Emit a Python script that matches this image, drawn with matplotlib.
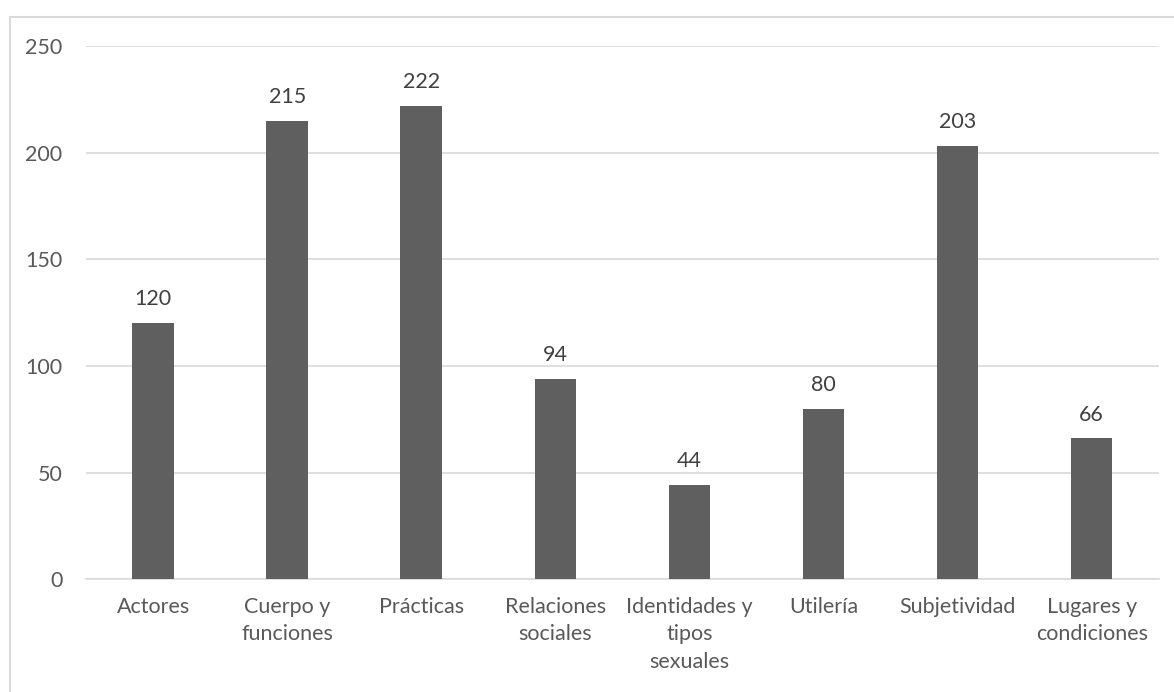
import matplotlib
matplotlib.use("Agg")
import matplotlib.pyplot as plt
import numpy as np

categories = ["Actores", "Cuerpo y\nfunciones", "Prácticas", "Relaciones\nsociales",
              "Identidades y\ntipos\nsexuales", "Utilería", "Subjetividad",
              "Lugares y\ncondiciones"]
values = [120, 215, 222, 94, 44, 80, 203, 66]
yticks = [0, 50, 100, 150, 200, 250]

plt.rcParams['font.family'] = ['Lato', 'DejaVu Sans']

fig = plt.figure(figsize=(11.74, 6.92), dpi=100)
ax = fig.add_axes([0.0733, 0.163, 0.9137, 0.7705])

x = np.arange(len(categories))
bars = ax.bar(x, values, width=0.31, color="#5f5f5f", zorder=3)

# value labels above each bar
for rect, v in zip(bars, values):
    ax.annotate(str(v), (rect.get_x() + rect.get_width() / 2, v),
                xytext=(0, 10), textcoords="offset points",
                ha="center", va="bottom", fontsize=15.5, color="#404040")

ax.set_xlim(-0.5, len(categories) - 0.5)
ax.set_ylim(0, 250)
ax.set_yticks(yticks)
ax.set_yticklabels([str(t) for t in yticks])
ax.set_xticks(x)
ax.set_xticklabels(categories, fontsize=15.5, color="#595959", linespacing=1.45)
ax.tick_params(axis="y", labelsize=15.5, labelcolor="#595959", length=0, pad=17)
ax.tick_params(axis="x", length=0, pad=13)
ax.yaxis.grid(True, color="#d9d9d9", linewidth=1.2, zorder=0)

for side in ["top", "right", "left"]:
    ax.spines[side].set_visible(False)
ax.spines["bottom"].set_color("#d9d9d9")
ax.spines["bottom"].set_linewidth(1.2)

# outer chart border
border = plt.Rectangle((10 / 1174, -0.1), 1.2, 1 - 17 / 692 + 0.1,
                       transform=fig.transFigure, fill=False,
                       edgecolor="#d9d9d9", linewidth=1.5)
fig.patches.append(border)

fig.savefig("out.png", dpi=100)
